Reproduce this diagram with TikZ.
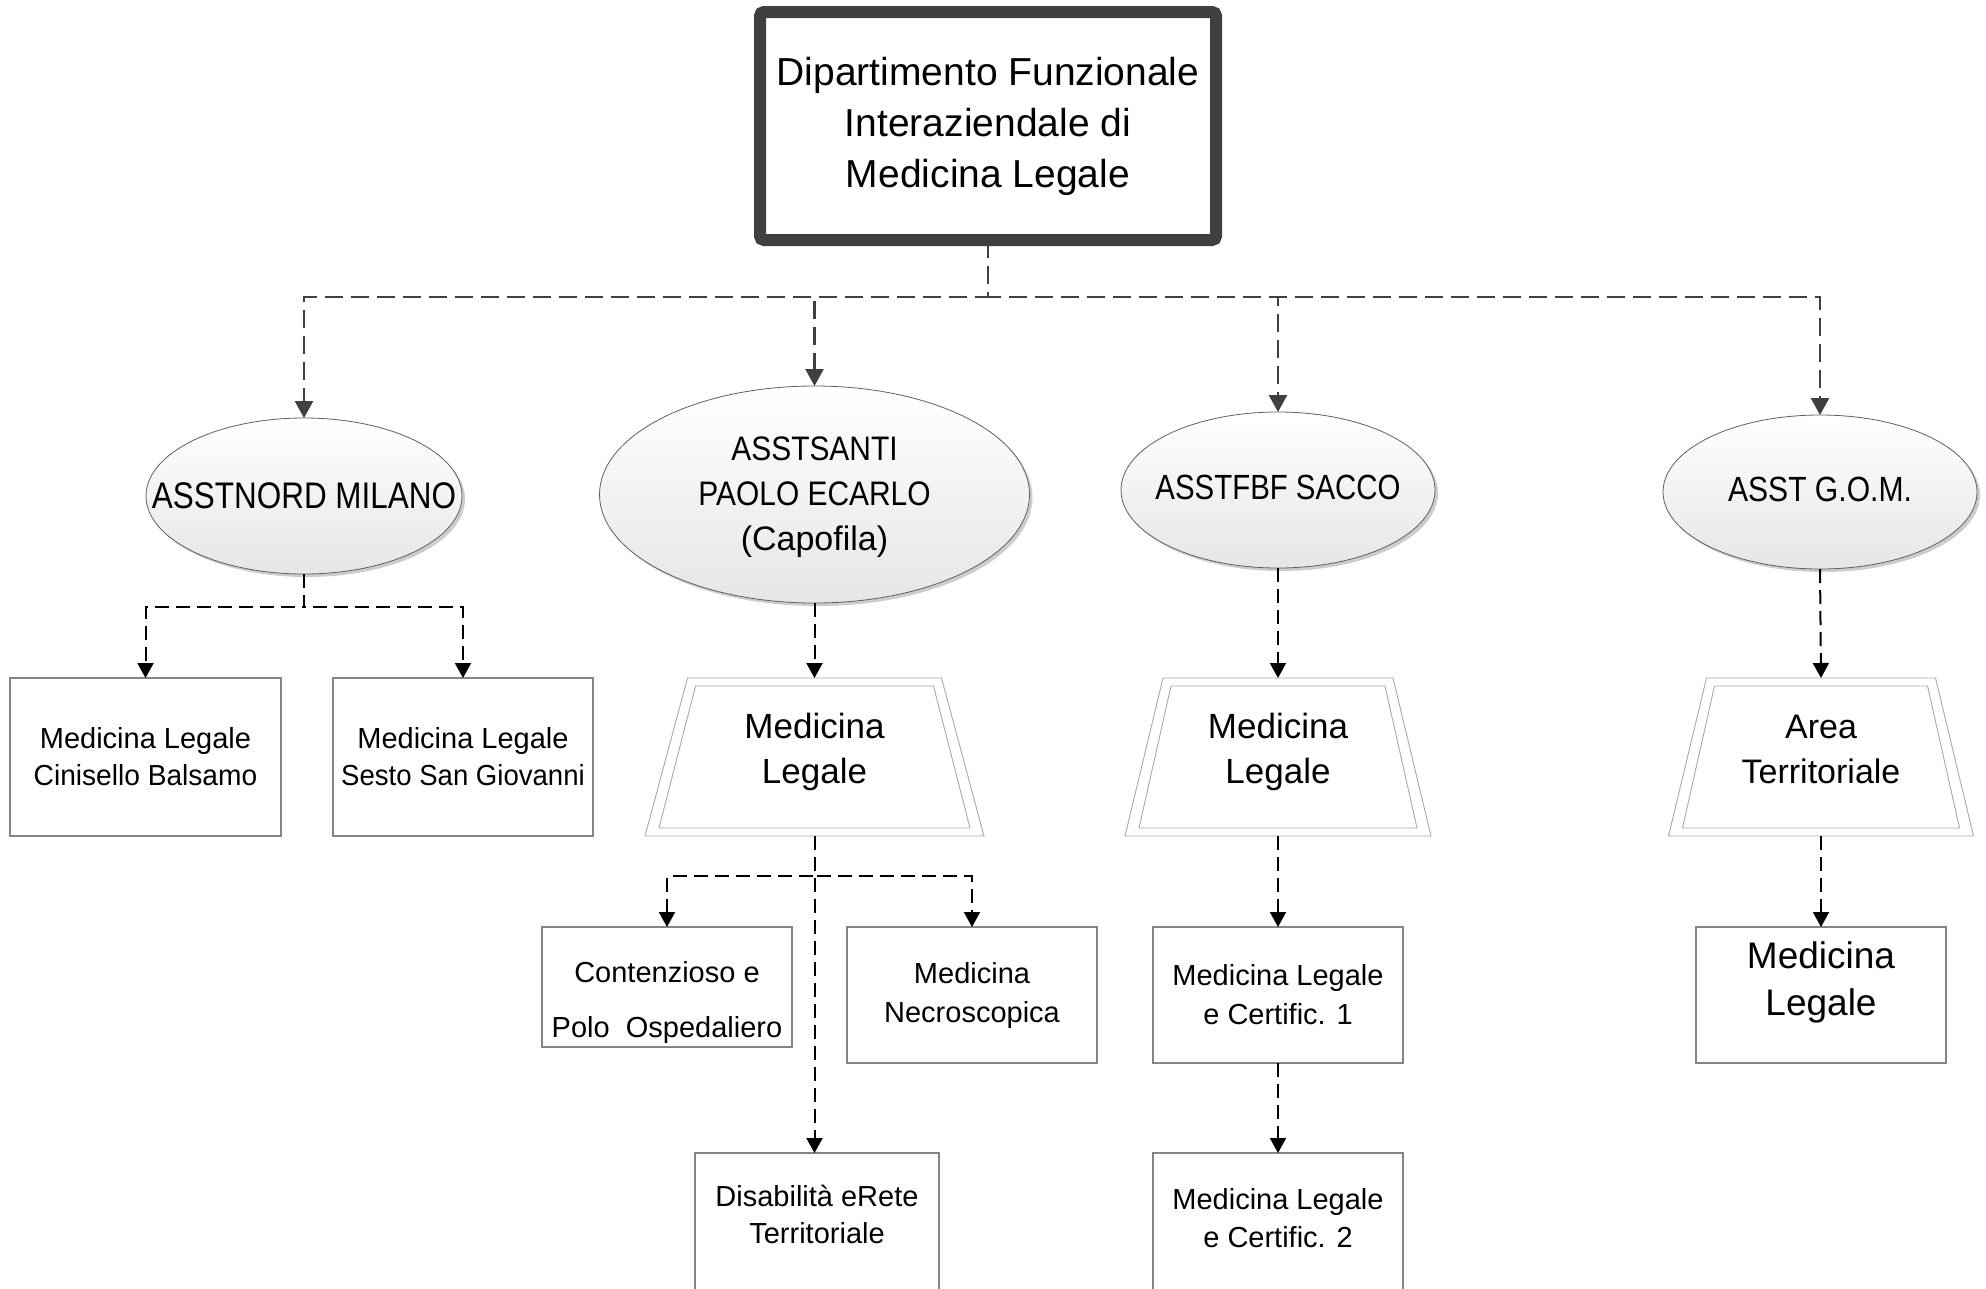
\documentclass[tikz,border=0pt]{standalone}
\usepackage{fontspec}
\setmainfont{Liberation Sans}
\usepackage{graphicx}
\usetikzlibrary{arrows.meta,shapes.geometric,shadows,calc}
\definecolor{dgray}{HTML}{404040}
\definecolor{bgray}{HTML}{858585}
\definecolor{tgray}{HTML}{A8A8A8}
\newcommand\fs[2]{\fontsize{#1}{#2}\selectfont}
\newcommand\cnd[2]{\scalebox{#1}[1]{#2}}
\newcommand\trapdraw[2]{%
  \draw[trapline] (#1.south west) -- ($(#1.north west)+(#2,0)$) -- ($(#1.north east)+(-#2,0)$) -- (#1.south east) -- cycle;
  \draw[trapline] ($(#1.south west)+(14,-8)$) -- ($(#1.north west)+(#2+8,8)$) -- ($(#1.north east)+(-#2-8,8)$) -- ($(#1.south east)+(-14,-8)$) -- cycle;}
\begin{document}
\begin{tikzpicture}[x=1pt,y=-1pt,
  every node/.style={inner sep=0pt,outer sep=0pt},
  topbox/.style={draw=dgray,line width=12pt,rounded corners=4pt,minimum width=456pt,minimum height=228pt,align=center,font=\fs{39}{51}},
  ell/.style={ellipse,draw=gray!75!black,line width=0.8pt,top color=white,bottom color=gray!20,drop shadow={shadow xshift=3pt,shadow yshift=-3pt,fill=gray!40,opacity=1},align=center},
  box/.style={rectangle,draw=bgray,line width=1.3pt,align=center,font=\fs{29}{37}},
  trapz/.style={rectangle,draw=none,minimum height=158pt},
  trapline/.style={draw=tgray,line width=0.9pt},
  topconn/.style={draw=dgray,line width=2.5pt,dash pattern=on 18pt off 8pt,-{Triangle[length=17pt,width=18pt]}},
  subconn/.style={draw=black,line width=2pt,dash pattern=on 14pt off 7pt,-{Triangle[length=15pt,width=16pt]}},
]
\useasboundingbox (0,0) rectangle (1986,1288);
\clip (0,0) rectangle (1986,1288);
\fill[white] (0,0) rectangle (1986,1288);

% top
\node[topbox] (top) at (988,126) {Dipartimento Funzionale\\Interaziendale di\\Medicina Legale};

% ellipses
\node[ell,minimum width=316pt,minimum height=156pt,label={[font=\fs{37}{45}]center:\cnd{.85}{ASSTNORD MILANO}}] (e1) at (304,496) {};
\node[ell,minimum width=430pt,minimum height=217pt,label={[font=\fs{34}{45},align=center,yshift=-3pt]center:{\cnd{.88}{ASSTSANTI}\\\cnd{.88}{PAOLO ECARLO}\\(Capofila)}}] (e2) at (814.5,494.5) {};
\node[ell,minimum width=314pt,minimum height=156pt,label={[font=\fs{35}{45},yshift=3pt]center:\cnd{.84}{ASSTFBF SACCO}}] (e3) at (1278,490) {};
\node[ell,minimum width=314pt,minimum height=154pt,label={[font=\fs{35}{45},yshift=3pt]center:\cnd{.86}{ASST G.O.M.}}] (e4) at (1820,492) {};

% trapezoids
\node[trapz,minimum width=339pt,label={[font=\fs{35}{45},align=center,yshift=5pt]center:{Medicina\\Legale}}] (t2) at (814.5,757) {};
\trapdraw{t2}{42.5}
\node[trapz,minimum width=306pt,label={[font=\fs{35}{45},align=center,yshift=5pt]center:{Medicina\\Legale}}] (t3) at (1278,757) {};
\trapdraw{t3}{38}
\node[trapz,minimum width=305pt,label={[font=\fs{34}{45},align=center,yshift=8pt]center:{Area\\Territoriale}}] (t4) at (1821,757) {};
\trapdraw{t4}{38}

% boxes
\node[box,minimum width=271pt,minimum height=158pt] (b1) at (145.5,757) {Medicina Legale\\\cnd{.97}{Cinisello Balsamo}};
\node[box,minimum width=260pt,minimum height=158pt] (b2) at (463,757) {Medicina Legale\\\cnd{.95}{Sesto San Giovanni}};
\node[box,minimum width=250pt,minimum height=120pt,label={[font=\fs{29}{55},align=center,yshift=-15pt]center:{Contenzioso e\\Polo\ \ Ospedaliero}}] (k1) at (667,987) {};
\node[box,minimum width=250pt,minimum height=136pt,font=\fs{29}{39}] (k2) at (972,995) {Medicina\\Necroscopica};
\node[box,minimum width=244pt,minimum height=147pt,label={[font=\fs{29}{37},align=center,yshift=12pt]center:{Disabilità eRete\\Territoriale}}] (k3) at (817,1226.5) {};
\node[box,minimum width=250pt,minimum height=136pt,font=\fs{29}{39}] (c1) at (1278,995) {Medicina Legale\\e Certific. 1};
\node[box,minimum width=250pt,minimum height=147pt,label={[font=\fs{29}{38},align=center,yshift=8pt]center:{Medicina Legale\\e Certific. 2}}] (c2) at (1278,1226.5) {};
\node[box,minimum width=250pt,minimum height=136pt,label={[font=\fs{37}{47},align=center,yshift=13pt]center:{Medicina\\Legale}}] (d1) at (1821,995) {};

% connectors from top
\draw[topconn] (top.south) -- ++(0,57) -| (e1.north);
\draw[topconn] (top.south) -- ++(0,57) -| (e2.north);
\draw[topconn] (top.south) -- ++(0,57) -| (e3.north);
\draw[topconn] (top.south) -- ++(0,57) -| (e4.north);

% lower connectors
\draw[subconn] (e1.south) -- ++(0,33) -| (b1.north);
\draw[subconn] (e1.south) -- ++(0,33) -| (b2.north);
\draw[subconn] (e2.south) -- (t2.north);
\draw[subconn] (t2.south) -- ++(0,40) -| (k1.north);
\draw[subconn] (t2.south) -- ++(0,40) -| (k2.north);
\draw[subconn] (t2.south) -- (t2.south |- k3.north);
\draw[subconn] (e3.south) -- (t3.north);
\draw[subconn] (t3.south) -- (c1.north);
\draw[subconn] (c1.south) -- (c2.north);
\draw[subconn] (e4.south) -- (t4.north);
\draw[subconn] (t4.south) -- (d1.north);
\end{tikzpicture}
\end{document}
